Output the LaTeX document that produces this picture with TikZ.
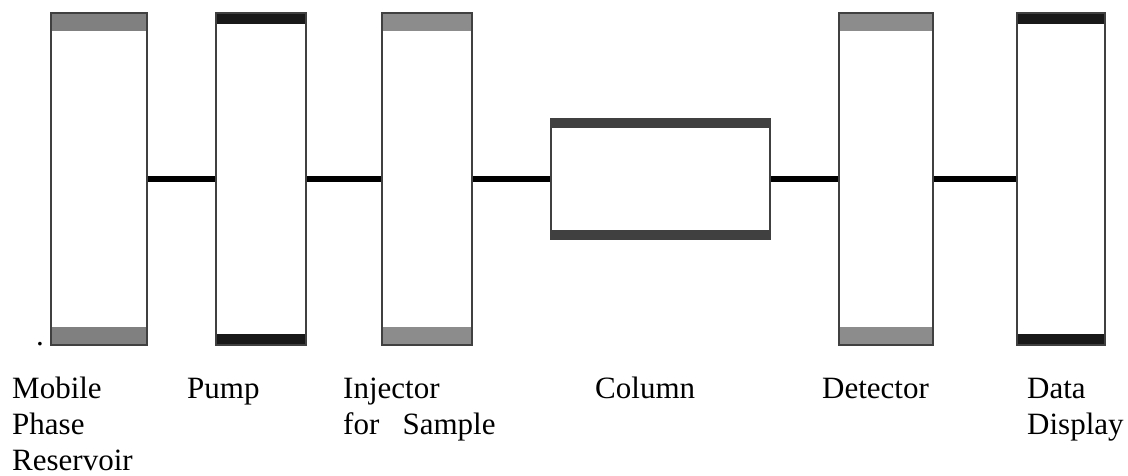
\documentclass[tikz,border=0pt]{standalone}
\usepackage{fontspec}
\setmainfont{Liberation Serif}
\tikzset{
  unit/.style 2 args={draw=black!75, line width=1.6pt, minimum height=332pt, inner sep=0pt,
    path picture={
      \fill[#1] (path picture bounding box.north west) rectangle ([yshift=-#2]path picture bounding box.north east);
      \fill[#1] (path picture bounding box.south west) rectangle ([yshift=#2]path picture bounding box.south east);}},
  pipe/.style={line width=6pt, black},
  caption/.style={anchor=base west, align=left, inner sep=0pt, font=\fontsize{31}{36}\selectfont}
}
\begin{document}
\begin{tikzpicture}[x=1pt,y=-1pt]
\useasboundingbox (0,0) rectangle (1128,475);
% the six parts of the set-up
\node[unit={black!50}{18pt}, minimum width=96pt] (res) at (99,179) {};
\node[unit={black!90}{11pt}, minimum width=90pt] (pump) at (261,179) {};
\node[unit={black!45}{18pt}, minimum width=90pt] (inj) at (427,179) {};
\node[unit={black!75}{9pt}, minimum width=219pt, minimum height=120pt] (col) at (660.5,179) {};
\node[unit={black!45}{18pt}, minimum width=94pt] (det) at (886,179) {};
\node[unit={black!90}{11pt}, minimum width=88pt] (disp) at (1061,179) {};
% tubing
\draw[pipe] (res.east) -- (pump.west);
\draw[pipe] (pump.east) -- (inj.west);
\draw[pipe] (inj.east) -- (col.west);
\draw[pipe] (col.east) -- (det.west);
\draw[pipe] (det.east) -- (disp.west);
% names (base = last line)
\node[caption] (dot) at (36,345) {.};
\node[caption] (resname) at (12,470) {Mobile\\Phase\\Reservoir};
\node[caption] (pumpname) at (187,398) {Pump};
\node[caption] (injname) at (343,434) {Injector\\for~~~Sample};
\node[caption] (colname) at (595,398) {Column};
\node[caption] (detname) at (822,398) {Detector};
\node[caption] (dispname) at (1027,434) {Data\\Display};
\end{tikzpicture}
\end{document}
